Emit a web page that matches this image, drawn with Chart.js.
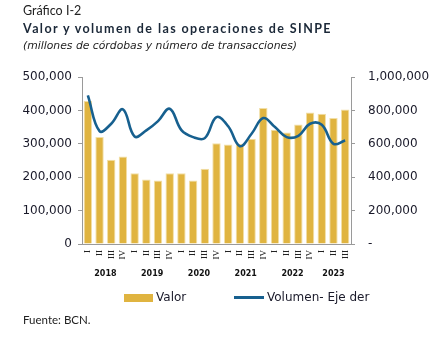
<!DOCTYPE html>
<html><head><meta charset="utf-8">
<script src="https://cdn.jsdelivr.net/npm/chart.js@4/dist/chart.umd.min.js"></script>
<style>
html,body{margin:0;padding:0;background:#fff;width:436px;height:342px;overflow:hidden;}
#wrap{position:absolute;left:0;top:0;width:436px;height:342px;}
.t{position:absolute;white-space:nowrap;color:#1e2a38;}
#g{left:23px;top:3px;font:12.5px Lato,sans-serif;color:#222;}
#ti{left:23px;top:21px;font:bold 12.5px Lato,sans-serif;letter-spacing:1.4px;color:#1b2838;}
#st{left:23px;top:39px;font:italic 10.8px "DejaVu Sans",sans-serif;color:#222;}
#fu{left:23px;top:313px;font:11.5px Lato,sans-serif;color:#222;}
.lg{position:absolute;font:12px "DejaVu Sans",sans-serif;color:#1a1a2a;top:290px;}
.sw{position:absolute;}
</style></head><body>
<div id="wrap"><canvas id="c"></canvas></div>
<div class="t" id="g">Gráfico I-2</div>
<div class="t" id="ti">Valor y volumen de las operaciones de SINPE</div>
<div class="t" id="st">(millones de córdobas y número de transacciones)</div>
<div class="t" id="fu">Fuente: BCN.</div>
<div class="sw" style="left:124px;top:294px;width:29px;height:8px;background:#E0B440"></div>
<div class="lg" style="left:156px">Valor</div>
<div class="sw" style="left:234px;top:296px;width:30px;height:2.5px;background:#17608F"></div>
<div class="lg" style="left:267px">Volumen- Eje der</div>
<script>
const quarters = ['I','II','III','IV','I','II','III','IV','I','II','III','IV','I','II','III','IV','I','II','III','IV','I','II','III'];
const years = ['2018','2019','2020','2021','2022','2023'];
const valor = [428000,320000,252000,262000,212000,193000,190000,212000,212000,190000,225000,302000,298000,300000,315000,407000,342000,334000,358000,394000,390000,377000,403000];
const volumen = [890000,676000,720000,806000,644000,680000,736000,810000,682000,640000,634000,760000,705000,586000,660000,754000,700000,640000,648000,720000,714000,600000,620000];
const leftTicks = [0,100000,200000,300000,400000,500000];
const rightTicks = [0,200000,400000,600000,800000,1000000];

const fmt = v => v.toLocaleString('en-US');
const yearPlugin = {
  id:'years',
  afterDraw(chart){
    const x = chart.scales.x, ctx = chart.ctx;
    ctx.save();
    ctx.font = 'bold 8px "DejaVu Sans"';
    ctx.fillStyle = '#111';
    ctx.textAlign = 'center';
    ctx.textBaseline = 'middle';
    years.forEach((y,i)=>{
      const a = i*4, b = Math.min(i*4+3, quarters.length-1);
      const cx = (x.getPixelForValue(a)+x.getPixelForValue(b))/2;
      ctx.fillText(y, cx, 274);
    });
    ctx.restore();
  }
};
new Chart(document.getElementById('c'), {
  data:{
    labels: quarters,
    datasets:[
      {type:'line', label:'Volumen- Eje der', data:volumen, yAxisID:'y1', borderColor:'#17608F', borderWidth:2.6, pointRadius:0, tension:0.4, fill:false, order:0},
      {type:'bar', label:'Valor', data:valor, yAxisID:'y', backgroundColor:'#E0B440', borderColor:'#F2DFA6', borderWidth:1, barPercentage:0.72, categoryPercentage:1, order:1}
    ]
  },
  options:{
    responsive:true, maintainAspectRatio:false, animation:false,
    layout:{padding:{top:77,left:0,right:0,bottom:0}},
    plugins:{legend:{display:false}, tooltip:{enabled:false}},
    scales:{
      x:{
        grid:{display:false, drawTicks:false},
        border:{display:true, color:'#9a9a9a', width:1},
        ticks:{minRotation:90, maxRotation:90, autoSkip:false, padding:6, font:{family:'"Liberation Serif"', size:9}, color:'#222'},
        afterFit(s){ s.height = 98; }
      },
      y:{
        position:'left', min:0, max:500000,
        afterBuildTicks(s){ s.ticks = leftTicks.map(v=>({value:v})); },
        grid:{drawOnChartArea:false, drawTicks:true, tickLength:4, color:'#9a9a9a'},
        border:{display:true, color:'#9a9a9a', width:1},
        ticks:{padding:6, font:{family:'"DejaVu Sans"', size:12}, color:'#1a1a2a', callback:v=>fmt(v)},
        afterFit(s){ s.width = 82; }
      },
      y1:{
        position:'right', min:0, max:1000000,
        afterBuildTicks(s){ s.ticks = rightTicks.map(v=>({value:v})); },
        grid:{drawOnChartArea:false, drawTicks:true, tickLength:4, color:'#9a9a9a'},
        border:{display:true, color:'#9a9a9a', width:1},
        ticks:{padding:13, font:{family:'"DejaVu Sans"', size:12}, color:'#1a1a2a', callback:v=> v===0 ? '-' : fmt(v)},
        afterFit(s){ s.width = 85; }
      }
    }
  },
  plugins:[yearPlugin]
});
</script>
</body></html>
